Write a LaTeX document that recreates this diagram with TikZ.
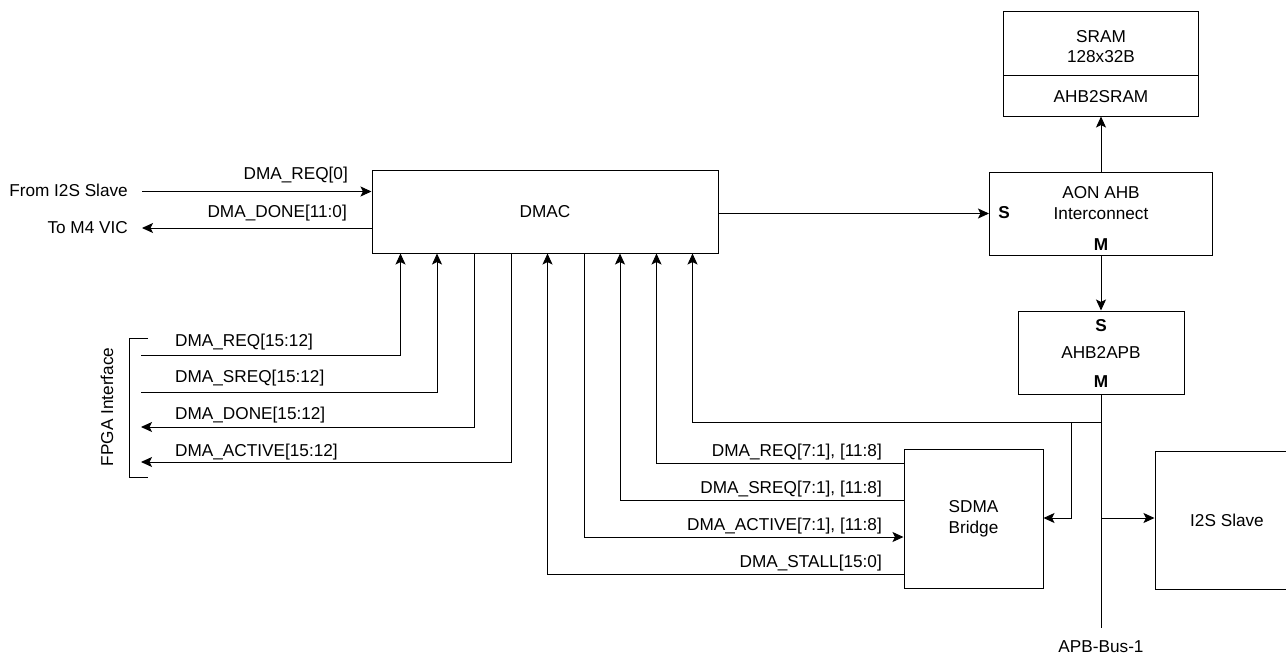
\documentclass[tikz,border=0pt]{standalone}
\usepackage{fontspec}
\setmainfont{Liberation Sans}
\usetikzlibrary{arrows.meta,calc}
\begin{document}
\begin{tikzpicture}[x=1pt,y=-1pt,
  every node/.style={font=\fontsize{17.2}{20.5}\selectfont},
  box/.style={draw=black,line width=1pt,inner sep=0pt},
  lbl/.style={inner sep=0pt},
  bl/.style={inner sep=0pt,font=\fontsize{17.2}{20.5}\selectfont\bfseries},
  wire/.style={line width=1pt,draw=black},
  arr/.style={wire,-{Stealth[length=11pt,width=10pt,inset=2.5pt]}}]
\path[use as bounding box,clip] (0,0) rectangle (1286,656);

% boxes
\node[box,minimum width=346pt,minimum height=83pt] (dmac) at (545,211.5) {DMAC};
\node[box,minimum width=195pt,minimum height=105pt] (sram) at (1101,63.5) {};
\node[box,minimum width=223pt,minimum height=83pt] (aon) at (1101,213.5) {};
\node[box,minimum width=166pt,minimum height=83pt] (apb) at (1101,352.5) {};
\node[box,minimum width=139pt,minimum height=139pt] (sdma) at (973.5,518.5) {};
\node[box,minimum width=144pt,minimum height=138pt] (i2s) at (1227,520) {};

% texts inside boxes
\draw[wire] (sram.west |- 0,75) coordinate (sdl) -- (sram.east |- sdl);
\node[lbl,align=center] (sramt) at (1101,46.5) {SRAM\\128x32B};
\node[lbl] (ahbsram) at (1101,97) {AHB2SRAM};
\node[lbl,align=center] (aont) at (1101,203) {AON AHB\\Interconnect};
\node[bl] (aons) at (1004,213) {S};
\node[bl] (aonm) at (1101,245) {M};
\node[bl] (apbs) at (1101,326) {S};
\node[lbl] (apbt) at (1101,352) {AHB2APB};
\node[bl] (apbm) at (1101,382) {M};
\node[lbl,align=center] (sdmat) at (973.5,519) {SDMA\\Bridge};
\node[lbl] (i2st) at (1227,520) {I2S Slave};

% left side signals
\node[lbl,anchor=east] (from) at (128,190) {From I2S Slave};
\node[lbl,anchor=east] (tom4) at (128,228) {To M4 VIC};
\node[lbl,anchor=east] (lreq0) at (348,175) {DMA\_REQ[0]};
\node[lbl,anchor=east] (ldone) at (347,213) {DMA\_DONE[11:0]};
\coordinate (fromend) at (142,191.5);
\coordinate (toend) at (142,228);
\draw[arr] (fromend) -- (fromend -| dmac.west);
\draw[arr] (dmac.west |- toend) -- (toend);

% FPGA interface
\coordinate (bt) at (148,338);
\coordinate (bb) at (148,477);
\draw[wire] (bt) -- (129,338) -- (129,477) -- (bb);
\node[lbl,rotate=90] (fpga) at (107,407) {FPGA Interface};
\coordinate (f1) at (141,355);
\coordinate (f2) at (141,392);
\coordinate (f3) at (141,427);
\coordinate (f4) at (141,462);
\node[lbl,anchor=west] (lf1) at (175,342) {DMA\_REQ[15:12]};
\node[lbl,anchor=west] (lf2) at (175,378) {DMA\_SREQ[15:12]};
\node[lbl,anchor=west] (lf3) at (175,415) {DMA\_DONE[15:12]};
\node[lbl,anchor=west] (lf4) at (175,452) {DMA\_ACTIVE[15:12]};
\draw[arr] (f1) -| (dmac.south -| 400.5,0);
\draw[arr] (f2) -| (dmac.south -| 437,0);
\draw[arr] (dmac.south -| 474.5,0) |- (f3);
\draw[arr] (dmac.south -| 511.5,0) |- (f4);

% SDMA signals
\coordinate (s1) at (904,463);
\coordinate (s2) at (904,500);
\coordinate (s3) at (904,537);
\coordinate (s4) at (904,574);
\node[lbl,anchor=east] (ls1) at (882,452) {DMA\_REQ[7:1], [11:8]};
\node[lbl,anchor=east] (ls2) at (882,489) {DMA\_SREQ[7:1], [11:8]};
\node[lbl,anchor=east] (ls3) at (882,526) {DMA\_ACTIVE[7:1], [11:8]};
\node[lbl,anchor=east] (ls4) at (882,563) {DMA\_STALL[15:0]};
\draw[arr] (s1) -| (dmac.south -| 656.5,0);
\draw[arr] (s2) -| (dmac.south -| 620,0);
\draw[arr] (dmac.south -| 584,0) |- (sdma.west |- s3);
\draw[arr] (s4) -| (dmac.south -| 547.5,0);

% AHB path
\draw[arr] (dmac.east |- aon.west) -- (aon.west);
\draw[arr] (aon.north) -- (sram.south);
\draw[arr] (aon.south) -- (apb.north);

% APB bus
\coordinate (busend) at (1101,628);
\coordinate (j1) at (1101,422);
\coordinate (j2) at (1071,422);
\coordinate (j3) at (1101,518);
\draw[wire] (apb.south) -- (busend);
\node[lbl] (busl) at (1101,647) {APB-Bus-1};
\draw[arr] (j1) -| (dmac.south -| 692.5,0);
\draw[arr] (j2) |- (sdma.east |- j3);
\draw[arr] (j3) -- (i2s.west |- j3);
\end{tikzpicture}
\end{document}
